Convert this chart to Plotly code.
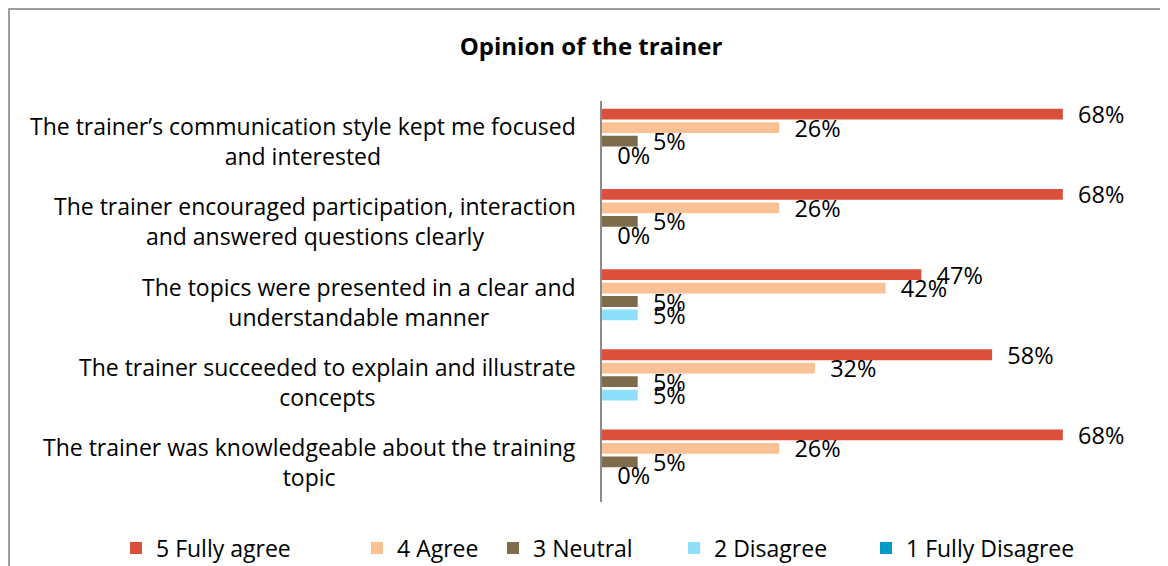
import plotly.graph_objects as go

# ---- data ----
categories = [
    "The trainer’s communication style kept me focused<br>and interested",
    "The trainer encouraged participation, interaction<br>and answered questions clearly",
    "The topics were presented in a clear and<br>understandable manner",
    "The trainer succeeded to explain and illustrate<br>concepts",
    "The trainer was knowledgeable about the training<br>topic",
]
series_names = ["5 Fully agree", "4 Agree", "3 Neutral", "2 Disagree", "1 Fully Disagree"]
fully_agree = [0.684, 0.684, 0.474, 0.579, 0.684]
agree = [0.263, 0.263, 0.421, 0.316, 0.263]
neutral = [0.053, 0.053, 0.053, 0.053, 0.053]
disagree = [0.0, 0.0, 0.053, 0.053, 0.0]
fully_disagree = [None, None, None, None, None]
title_text = "Opinion of the trainer"

series_values = [fully_agree, agree, neutral, disagree, fully_disagree]
colors = ["#DA503C", "#FAC194", "#7E6B4C", "#8EDFFA", "#009AC9"]

FONT = "Open Sans"
FIG_W, FIG_H = 1160, 558   # page body adds an 8px margin
OFF = 8                    # page offset of the figure

fig = go.Figure()

legend_names = ["legend", "legend2", "legend3", "legend4", "legend5"]
for name, vals, col, lg in zip(series_names, series_values, colors, legend_names):
    has_text = any(v is not None for v in vals)
    fig.add_trace(go.Bar(
        y=categories, x=vals, name=name, orientation="h",
        marker=dict(color=col, line=dict(width=0)),
        texttemplate="\u00a0\u00a0%{x:.0%}" if has_text else None,
        textposition="outside",
        constraintext="none",
        cliponaxis=False,
        textfont=dict(family=FONT, size=23.5, color="#000000"),
        legend=lg,
        hoverinfo="skip",
    ))

# plot area geometry in figure pixels (reference page pixels minus OFF)
PL, PR, PT, PB = 602 - OFF, 1141 - OFF, 101 - OFF, 502 - OFF
L, R, T, B = PL, FIG_W - PR, PT, FIG_H - PB
W = PR - PL
H = PB - PT

def px_x(px):
    return (px - OFF - PL) / W

def px_y(py):
    return (PB - (py - OFF)) / H

# category labels, centred text block ending left of the axis
for c in categories:
    fig.add_annotation(
        x=px_x(578), xref="paper", xanchor="right",
        y=c, yref="y", yanchor="middle",
        text=c, showarrow=False, align="center",
        font=dict(family=FONT, size=23, color="#000000"),
    )

# legends positioned like the reference
legend_text_px = [155, 396, 532, 713, 905]
layout_legends = {}
for lg, tx in zip(legend_names, legend_text_px):
    layout_legends[lg] = dict(
        x=px_x(tx - 39), xanchor="left", y=px_y(548), yanchor="middle",
        orientation="h", bgcolor="rgba(0,0,0,0)",
        font=dict(family=FONT, size=23, color="#000000"),
        itemclick=False, itemdoubleclick=False,
    )

fig.update_layout(
    width=FIG_W, height=FIG_H,
    margin=dict(l=L, r=R, t=T, b=B, autoexpand=False),
    paper_bgcolor="white", plot_bgcolor="white",
    barmode="group", bargap=0.16, bargroupgap=0.2,
    title=dict(text="<b>" + title_text + "</b>", xref="container",
               x=(591 - OFF) / FIG_W, xanchor="center", yref="container",
               y=1 - (47 - OFF) / FIG_H, yanchor="middle",
               font=dict(family=FONT, size=24, color="#000000")),
    xaxis=dict(range=[0, 0.8], showgrid=False, zeroline=False,
               showticklabels=False, showline=False, fixedrange=True),
    yaxis=dict(autorange="reversed", showgrid=False, zeroline=False,
               showticklabels=False, ticks="", showline=True,
               linecolor="#8C8C8C", linewidth=2, fixedrange=True),
    showlegend=True,
    **layout_legends,
)

# chart border
fig.add_shape(type="rect", xref="paper", yref="paper",
              x0=px_x(OFF + 1), x1=px_x(1180), y0=px_y(590), y1=px_y(OFF + 1),
              line=dict(color="#7F7F7F", width=1.5), layer="below")

fig.write_html("out.html")
